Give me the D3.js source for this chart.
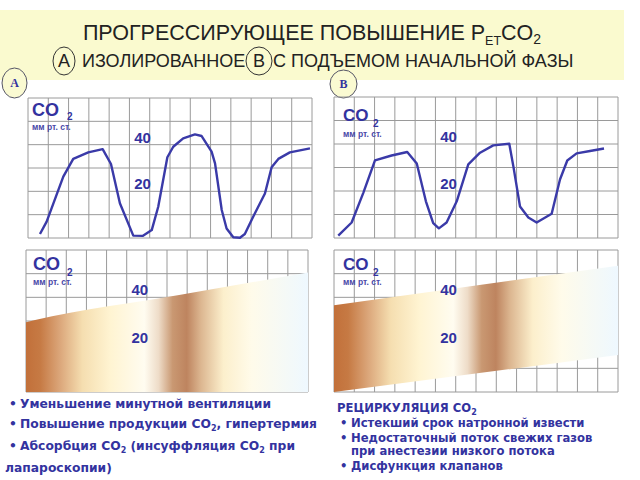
<!DOCTYPE html>
<html lang="ru">
<head>
<meta charset="UTF-8">
<title>PetCO2</title>
<script src="https://cdn.jsdelivr.net/npm/d3@7"></script>
<style>
    body{margin:0;background:#fff;}
    svg{display:block;font-family:"Liberation Sans",Arial,sans-serif;}
</style>
</head>
<body>
<svg width="640" height="480"></svg>
<script>
    // capnogram A - isolated rise (time in grid units, CO2 in mm Hg)
    const timeA = [0.59,0.92,1.74,2.23,2.97,3.68,4.09,4.53,5.19,5.65,6.10,6.42,6.87,7.16,7.65,8.23,8.56,9.05,9.22,9.55,9.79,10.12,10.45,10.69,11.10,11.68,12.01,12.34,12.91,13.90];
    const co2A  = [1.7,7.0,26.3,33.9,36.7,38.1,31.7,14.9,1.0,0.9,3.4,13.4,34.6,39.1,42.7,44.4,43.7,37,32,12,4.1,0.3,0.1,1.7,9.1,19.1,30.3,33.9,36.7,38.4];
    // capnogram B - with baseline rise
    const timeB = [0.21,0.87,1.44,2.02,2.84,3.61,4.08,4.53,4.89,5.17,5.55,6.05,6.62,7.20,7.85,8.64,8.84,9.17,9.58,9.99,10.73,11.14,11.50,11.96,12.62,13.31];
    const co2B  = [1,6.6,19.1,33,35.1,36.6,31.7,15.6,6.3,4.1,6.6,15.6,31.3,36.3,39.4,40.1,30.6,13.4,8.7,6.6,10.3,24.9,33,36,37,38.1];
    // trend bands
    const bandTimeA = [0,0.4,7.6,14];
    const bandTopA = [29.5,30.3,41,50.5];
    const bandBotA = [0,0,0,0];
    const bandTimeB = [0,14];
    const bandTopB = [36.7,53.3];
    const bandBotB = [0,15.6];
    const yLabels = [40,20];
    const cols = 14, rows = 6;

    const titleLine1 = ['ПРОГРЕССИРУЮЩЕЕ ПОВЫШЕНИЕ P','ET','CO','2'];
    const listA = [
        ['Уменьшение минутной вентиляции'],
        ['Повышение продукции CO','2',', гипертермия'],
        ['Абсорбция CO','2',' (инсуффляция CO','2',' при']
    ];
    const listB = ['Истекший срок натронной извести','Недостаточный поток свежих газов','при анестезии низкого потока','Дисфункция клапанов'];

    const blue = '#33339f';
    const svg = d3.select('svg');

    // title band
    svg.append('rect').attr('x',0).attr('y',10).attr('width',624).attr('height',70).attr('fill','#fafacf');
    const t1 = svg.append('text').attr('x',312).attr('y',40).attr('text-anchor','middle')
        .attr('font-size',21.5).attr('fill','#222');
    t1.append('tspan').text(titleLine1[0]);
    t1.append('tspan').attr('font-size',12.5).attr('dy',5).text(titleLine1[1]);
    t1.append('tspan').attr('dy',-5).text(titleLine1[2]);
    t1.append('tspan').attr('font-size',14).attr('dy',4).text(titleLine1[3]);

    const t2 = svg.append('g').attr('font-size',18).attr('fill','#222');
    t2.append('text').attr('x',64).attr('y',67).attr('text-anchor','middle').text('А');
    t2.append('text').attr('x',82).attr('y',67).text('ИЗОЛИРОВАННОЕ');
    t2.append('text').attr('x',259).attr('y',67).attr('text-anchor','middle').text('В');
    t2.append('text').attr('x',273).attr('y',67).text('С ПОДЪЕМОМ НАЧАЛЬНОЙ ФАЗЫ');
    [[64,61,11,14],[259,61,13,14]].forEach(e=>{
        svg.append('ellipse').attr('cx',e[0]).attr('cy',e[1]).attr('rx',e[2]).attr('ry',e[3])
            .attr('fill','none').attr('stroke','#333').attr('stroke-width',1);
    });

    // A / B badges
    [['A',14.5,83,12.5,15],['B',343.5,84,13.5,14]].forEach(b=>{
        svg.append('ellipse').attr('cx',b[1]).attr('cy',b[2]).attr('rx',b[3]).attr('ry',b[4])
            .attr('fill','#fafad2').attr('stroke','#556').attr('stroke-width',1);
        svg.append('text').attr('x',b[1]).attr('y',b[2]+4).attr('text-anchor','middle')
            .attr('font-family','"Liberation Serif",serif').attr('font-weight','bold')
            .attr('font-size',12).attr('fill',blue).text(b[0]);
    });

    // gradient for the trend bands
    const defs = svg.append('defs');
    function makeGrad(id,x0,x1){
        const g = defs.append('linearGradient').attr('id',id).attr('gradientUnits','userSpaceOnUse')
            .attr('x1',x0).attr('x2',x1).attr('y1',0).attr('y2',0);
        [[0,'#c2703a'],[0.05,'#c67a44'],[0.12,'#dba67a'],[0.2,'#f5deb0'],[0.3,'#fff4d2'],
         [0.42,'#fffcf0'],[0.47,'#eedcc8'],[0.52,'#c99872'],[0.57,'#be845f'],[0.62,'#dcb690'],
         [0.7,'#fcefcc'],[0.8,'#fffbea'],[1,'#eef8ff']].forEach(s=>{
            g.append('stop').attr('offset',s[0]).attr('stop-color',s[1]);
        });
    }

    const panels = [
        {x0:28,x1:312,y0:98,y1:238,t:timeA,v:co2A,co:[32,116,67,120,130],fs:18},
        {x0:334,x1:618,y0:97,y1:238,t:timeB,v:co2B,co:[343,121,373,127,137],fs:17},
        {x0:26,x1:308,y0:250,y1:392,bt:bandTimeA,top:bandTopA,bot:bandBotA,co:[33,270,67,276,285],fs:18,grad:'gA'},
        {x0:334,x1:618,y0:250,y1:392,bt:bandTimeB,top:bandTopB,bot:bandBotB,co:[343,270,373,276,285],fs:17,grad:'gB'}
    ];

    panels.forEach(p=>{
        const x = d3.scaleLinear().domain([0,cols]).range([p.x0,p.x1]);
        const y = d3.scaleLinear().domain([0,rows*10]).range([p.y1,p.y0]);
        const g = svg.append('g');
        g.selectAll('line.v').data(d3.range(0,cols+1)).join('line').attr('class','v')
            .attr('x1',d=>x(d)).attr('x2',d=>x(d)).attr('y1',p.y0).attr('y2',p.y1)
            .attr('stroke','#9a9a9a').attr('stroke-width',1);
        g.selectAll('line.h').data(d3.range(0,rows*10+1,10)).join('line').attr('class','h')
            .attr('x1',p.x0).attr('x2',p.x1).attr('y1',d=>y(d)).attr('y2',d=>y(d))
            .attr('stroke','#9a9a9a').attr('stroke-width',1);

        if (p.grad){
            makeGrad(p.grad,p.x0,p.x1);
            const area = d3.area().x(d=>x(d[0])).y0(d=>y(d[2])).y1(d=>y(d[1])).curve(d3.curveMonotoneX);
            g.append('path').datum(p.bt.map((t,i)=>[t,p.top[i],p.bot[i]]))
                .attr('d',area).attr('fill',`url(#${p.grad})`);
        } else {
            const line = d3.line().x(d=>x(d[0])).y(d=>y(d[1]));
            g.append('path').datum(p.t.map((t,i)=>[t,p.v[i]]))
                .attr('d',line).attr('fill','none').attr('stroke','#3a3aa8')
                .attr('stroke-width',2.4).attr('stroke-linejoin','round');
        }

        g.selectAll('text.val').data(yLabels).join('text').attr('class','val')
            .attr('x',x(5.65)).attr('y',d=>y(d)-2).attr('text-anchor','middle')
            .attr('font-size',15).attr('font-weight','bold').attr('fill',blue).text(d=>d);

        g.append('text').attr('x',p.co[0]).attr('y',p.co[1]).attr('font-size',p.fs)
            .attr('font-weight','bold').attr('fill',blue).text('CO');
        g.append('text').attr('x',p.co[2]).attr('y',p.co[3]).attr('font-size',10)
            .attr('font-weight','bold').attr('fill',blue).text('2');
        g.append('text').attr('x',p.co[0]).attr('y',p.co[4]).attr('font-size',8.5)
            .attr('font-weight','bold').attr('fill','#4848a8').text('мм рт. ст.');
    });

    // left list
    const lf = svg.append('g').attr('font-family','"DejaVu Sans",Verdana,sans-serif')
        .attr('font-weight','bold').attr('font-size',12.3).attr('fill',blue);
    const ly = [408,428,450];
    listA.forEach((parts,i)=>{
        lf.append('text').attr('x',9).attr('y',ly[i]).text('•');
        const t = lf.append('text').attr('x',20).attr('y',ly[i]);
        let sub = false;
        parts.forEach(s=>{
            if (s==='2') { t.append('tspan').attr('font-size',8).attr('dy',3).text(s); sub = true; }
            else { t.append('tspan').attr('dy',sub?-3:0).text(s); sub = false; }
        });
    });
    lf.append('text').attr('x',5).attr('y',472).text('лапароскопии)');

    // right list
    const rf = svg.append('g').attr('font-family','"DejaVu Sans",Verdana,sans-serif')
        .attr('font-weight','bold').attr('font-size',11.6).attr('fill',blue);
    const rh = rf.append('text').attr('x',337).attr('y',412);
    rh.append('tspan').text('РЕЦИРКУЛЯЦИЯ CO');
    rh.append('tspan').attr('font-size',8).attr('dy',3).text('2');
    const ry = [427,442,455,470];
    listB.forEach((s,i)=>{
        if (i!==2) rf.append('text').attr('x',340).attr('y',ry[i]).text('•');
        rf.append('text').attr('x',351).attr('y',ry[i]).text(s);
    });
</script>
</body>
</html>
